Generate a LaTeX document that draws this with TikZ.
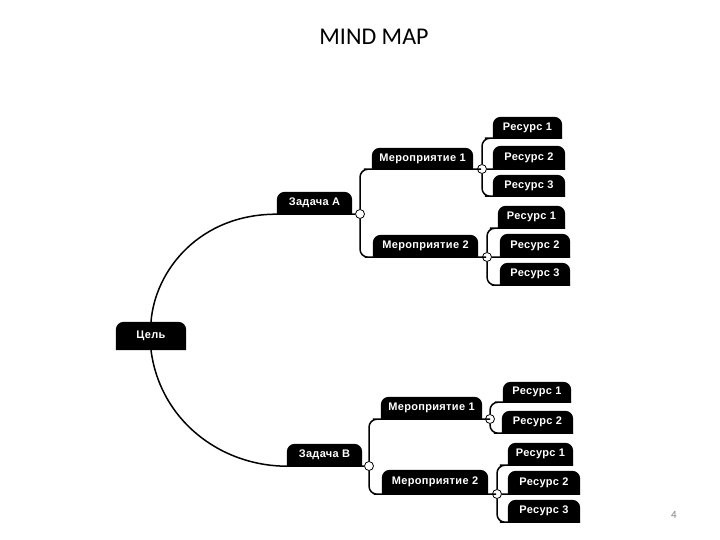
\documentclass[tikz,border=0pt]{standalone}
\usepackage{fontspec}
\setmainfont{Liberation Sans}
\newfontfamily\titlefont{Carlito}
\newfontfamily\boxfont[LetterSpace=3]{Liberation Sans}
\pgfdeclarelayer{bg}
\pgfsetlayers{bg,main}
% name, x1, y1, x2, y2, text
\newcommand\mmnode[6]{%
  \node[boxtext, minimum width={#4-#2}, minimum height={#5-#3}] (#1) at ({(#2+#4)/2},{(#3+#5)/2}) {#6};
  \begin{pgfonlayer}{bg}
    \fill[boxfill] (#1.south west) [rounded corners=8pt] -- (#1.north west) -- (#1.north east) [sharp corners] -- (#1.south east) -- cycle;
  \end{pgfonlayer}}
\begin{document}
\begin{tikzpicture}[x=1pt,y=-1pt,
  boxtext/.style={text=white,font=\boxfont\bfseries\fontsize{11}{13}\selectfont,inner sep=0pt},
  boxfill/.style={fill=black},
  link/.style={line width=1.5pt,draw=black},
  knob/.style={circle,draw=black,fill=white,line width=0.8pt,minimum size=9pt,inner sep=0pt}]
\useasboundingbox (0,0) rectangle (720,540);

\node[font=\titlefont\fontsize{24}{28}\selectfont] (title) at (374,37) {MIND MAP};
\node[font=\titlefont\fontsize{11}{13}\selectfont,text=black!50] (pagenum) at (674,515) {4};

% boxes
\mmnode{cel}{116}{322}{186}{350}{Цель}
\mmnode{zA}{277}{192}{352}{214}{Задача A}
\mmnode{zB}{287}{444}{362}{466}{Задача B}
\mmnode{mA1}{372}{148}{473}{169}{Мероприятие 1}
\mmnode{mA2}{373}{235}{478}{257}{Мероприятие 2}
\mmnode{mB1}{381}{397}{482}{419}{Мероприятие 1}
\mmnode{mB2}{382}{470}{488}{494}{Мероприятие 2}
\mmnode{rA11}{493}{117}{562}{138}{Ресурс 1}
\mmnode{rA12}{493}{146}{565}{169}{Ресурс 2}
\mmnode{rA13}{493}{175}{565}{196}{Ресурс 3}
\mmnode{rA21}{498}{206}{565}{228}{Ресурс 1}
\mmnode{rA22}{500}{234}{570}{257}{Ресурс 2}
\mmnode{rA23}{500}{263}{570}{285}{Ресурс 3}
\mmnode{rB11}{503}{382}{571}{402}{Ресурс 1}
\mmnode{rB12}{502}{411}{573}{433}{Ресурс 2}
\mmnode{rB21}{508}{443}{573}{465}{Ресурс 1}
\mmnode{rB22}{508}{471}{580}{494}{Ресурс 2}
\mmnode{rB23}{508}{500}{580}{522}{Ресурс 3}

% knobs
\node[knob] (kA) at (360,214) {};
\node[knob] (kB) at (369,466) {};
\node[knob] (kA1) at (482,169) {};
\node[knob] (kA2) at (487,257) {};
\node[knob] (kB1) at (490,419) {};
\node[knob] (kB2) at (497,494) {};

% main curves
\draw[link] (cel.north) .. controls (155,270) and (200,214) .. (zA.south west) -- (kA);
\draw[link] (cel.south) .. controls (160,420) and (220,466) .. (zB.south west) -- (kB);

% level 2
\draw[link,rounded corners=8pt] (kA) |- (mA1.south west) -- (mA1.south east) -- (kA1);
\draw[link,rounded corners=8pt] (kA) |- (mA2.south west) -- (mA2.south east) -- (kA2);
\draw[link,rounded corners=8pt] (kB) |- (mB1.south west) -- (mB1.south east) -- (kB1);
\draw[link,rounded corners=8pt] (kB) |- (mB2.south west) -- (mB2.south east) -- (kB2);

% level 3
\draw[link,rounded corners=8pt] (kA1) |- (rA11.south west) -- (rA11.south east);
\draw[link] (kA1) -- (rA12.south west) -- (rA12.south east);
\draw[link,rounded corners=8pt] (kA1) |- (rA13.south west) -- (rA13.south east);
\draw[link,rounded corners=8pt] (kA2) |- (rA21.south west) -- (rA21.south east);
\draw[link] (kA2) -- (rA22.south west) -- (rA22.south east);
\draw[link,rounded corners=8pt] (kA2) |- (rA23.south west) -- (rA23.south east);
\draw[link,rounded corners=8pt] (kB1) |- (rB11.south west) -- (rB11.south east);
\draw[link,rounded corners=8pt] (kB1) |- (rB12.south west) -- (rB12.south east);
\draw[link,rounded corners=8pt] (kB2) |- (rB21.south west) -- (rB21.south east);
\draw[link] (kB2) -- (rB22.south west) -- (rB22.south east);
\draw[link,rounded corners=8pt] (kB2) |- (rB23.south west) -- (rB23.south east);
\end{tikzpicture}
\end{document}
